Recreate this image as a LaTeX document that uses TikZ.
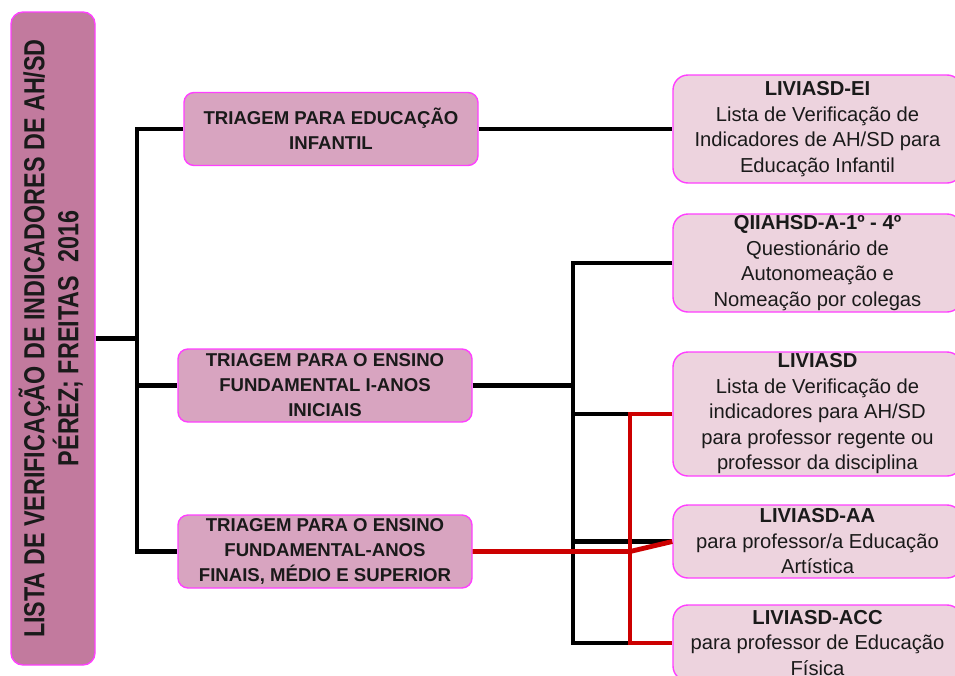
\documentclass[tikz,border=0pt]{standalone}
\usepackage{fontspec}
\setmainfont{Liberation Sans}
\usepackage{graphicx}
\definecolor{mag}{HTML}{FF3FFF}
\definecolor{mainfill}{HTML}{C27A9E}
\definecolor{trifill}{HTML}{D8A4C0}
\definecolor{rfill}{HTML}{EDD3DE}
\definecolor{txt}{HTML}{1A1A1A}
\definecolor{redline}{HTML}{CC0000}
\begin{document}
\begin{tikzpicture}[x=1pt,y=-1pt,
  box/.style={draw=mag, line width=1.4pt, align=center, inner sep=0pt, text=txt},
  tri/.style={box, fill=trifill, rounded corners=10pt, font=\fontsize{18.6}{25}\selectfont\bfseries, minimum width=294pt, minimum height=73pt},
  rbox/.style={box, fill=rfill, rounded corners=15pt, font=\fontsize{20.2}{25.5}\selectfont, minimum width=289pt},
  mainbox/.style={box, fill=mainfill, rounded corners=12pt, minimum width=84pt, minimum height=653pt, font=\fontsize{29}{31}\selectfont\bfseries},
  blk/.style={line width=4.8pt, black},
  redl/.style={line width=4.8pt, redline}]
\useasboundingbox (0,0) rectangle (955,675);
\clip (0,0) rectangle (955,675);

\node[mainbox] (main) at (53,338.5) {\rotatebox{90}{\scalebox{0.805}[1]{\begin{tabular}{@{}c@{}}LISTA DE VERIFICAÇÃO DE INDICADORES DE AH/SD\\[-1pt] PÉREZ; FREITAS\ \ 2016\end{tabular}}}};

\node[tri] (t1) at (331,129) {TRIAGEM PARA EDUCAÇÃO\\INFANTIL};
\node[tri] (t2) at (325,385.5) {TRIAGEM PARA O ENSINO\\FUNDAMENTAL I-ANOS\\INICIAIS};
\node[tri] (t3) at (325,551.5) {TRIAGEM PARA O ENSINO\\FUNDAMENTAL-ANOS\\FINAIS, MÉDIO E SUPERIOR};

\node[rbox, minimum height=108pt] (r1) at (817.5,129) {{\bfseries LIVIASD-EI}\\Lista de Verificação de\\Indicadores de AH/SD para\\Educação Infantil};
\node[rbox, minimum height=98pt] (r2) at (817.5,263) {{\bfseries QIIAHSD-A-1º - 4º}\\Questionário de\\Autonomeação e\\Nomeação por colegas};
\node[rbox, minimum height=124pt] (r3) at (817.5,414) {{\bfseries LIVIASD}\\Lista de Verificação de\\indicadores para AH/SD\\para professor regente ou\\professor da disciplina};
\node[rbox, minimum height=73pt] (r4) at (817.5,541.5) {{\bfseries LIVIASD-AA}\\para professor/a Educação\\Artística};
\node[rbox, minimum height=76pt] (r5) at (817.5,643) {{\bfseries LIVIASD-ACC}\\para professor de Educação\\Física};

\coordinate (b1) at (137,338.5);
\coordinate (b2) at (573,385.5);
\coordinate (rj) at (630,551.5);

% left tree
\draw[blk] (main.east) -- (b1);
\draw[blk] (t1.west) -| (b1) |- (t3.west);
\draw[blk] (b1 |- t2.west) -- (t2.west);
\draw[blk] (t1.east) -- (r1.west);

% right tree (black)
\draw[blk] (t2.east) -- (b2);
\draw[blk] (r2.west) -| (b2) |- (r5.west);
\draw[blk] (b2 |- r3.west) -- (r3.west);
\draw[blk] (b2 |- r4.west) -- (r4.west);

% red connectors
\draw[redl] (t3.east) -- (rj) -- (r4.west);
\draw[redl] (r3.west) -| (rj) |- (r5.west);
\end{tikzpicture}
\end{document}
